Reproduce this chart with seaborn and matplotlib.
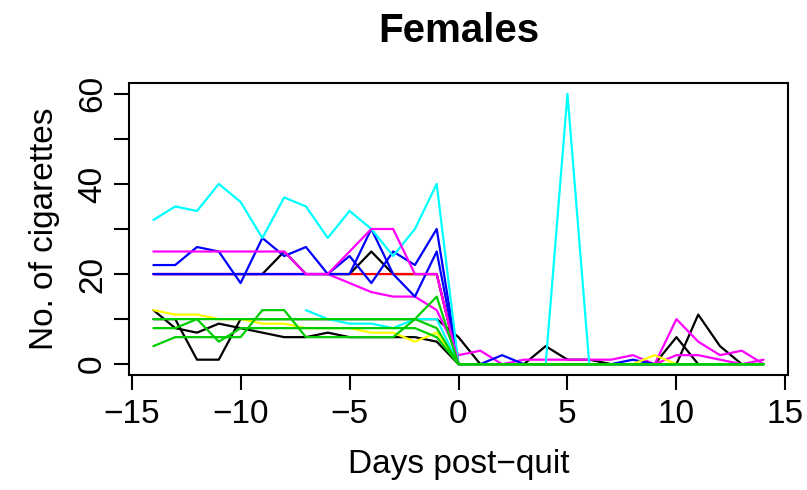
import numpy as np
import pandas as pd
import matplotlib
matplotlib.use("Agg")
import matplotlib.pyplot as plt
import seaborn as sns

nan = np.nan
days = [-14, -13, -12, -11, -10, -9, -8, -7, -6, -5, -4, -3, -2, -1,
        0, 1, 2, 3, 4, 5, 6, 7, 8, 9, 10, 11, 12, 13, 14]

black_a = [20, 20, 20, 20, 20, 20, 25, 20, 20, 20, 25, 20, 20, 20,
           0, 0, 0, 0, 0, 0, 0, 0, 0, 0, 0, 11, 4, 0, 0]
black_b = [10, 10, 1, 1, 10, 10, 10, 10, 10, 10, 10, 10, 10, 10,
           6, 0, 0, 0, 4, 1, 1, 0, 0, 0, 0, 0, 0, 0, 0]
black_c = [12, 8, 7, 9, 8, 7, 6, 6, 7, 6, 6, 6, 6, 5,
           0, 0, 0, 0, 0, 0, 0, 0, 0, 0, 6, 0, 0, 0, 0]
red_a = [20, 20, 20, 20, 20, 20, 20, 20, 20, 20, 20, 20, 20, 20,
         0, 0, 0, 0, 0, 0, 0, 0, 0, 0, 0, 0, 0, 0, 0]
magenta_b = [20, 20, 20, 20, 20, 20, 20, 20, 20, 18, 16, 15, 15, 12,
             2, 3, 0, 1, 1, 1, 1, 1, 2, 0, 10, 5, 2, 3, 0]
blue_a = [22, 22, 26, 25, 18, 28, 24, 26, 20, 24, 18, 25, 22, 30,
          0, 0, 2, 0, 0, 0, 0, 0, 1, 0, 0, 0, 0, 0, 0]
blue_b = [20, 20, 20, 20, 20, 20, 20, 20, 20, 20, 30, 20, 15, 25,
          0, 0, 0, 0, 0, 0, 0, 0, 0, 0, 0, 0, 0, 0, 0]
cyan_a = [32, 35, 34, 40, 36, 28, 37, 35, 28, 34, 30, 24, 30, 40,
          0, 0, 0, 0, 0, 60, 0, 0, 0, 0, 0, 0, 0, 0, 0]
cyan_b = [nan, nan, nan, nan, nan, nan, nan, 12, 10, 9, 9, 8, 10, 10,
          0, 0, 0, 0, 0, 0, 0, 0, 0, 0, 0, 0, 0, 0, 0]
magenta_a = [25, 25, 25, 25, 25, 25, 25, 20, 20, 25, 30, 30, 20, 20,
             0, 0, 0, 0, 0, 0, 0, 0, 0, 0, 2, 2, 1, 0, 1]
yellow_a = [12, 11, 11, 10, 10, 9, 9, 8, 8, 8, 7, 7, 5, 7,
            0, 0, 0, 0, 0, 0, 0, 0, 0, 2, 0, 0, 0, 0, 0]
green_a = [10, 10, 10, 10, 10, 10, 10, 10, 10, 10, 10, 10, 10, 8,
           0, 0, 0, 0, 0, 0, 0, 0, 0, 0, 0, 0, 0, 0, 0]
green_b = [8, 8, 10, 5, 8, 8, 8, 8, 8, 8, 8, 8, 8, 6,
           0, 0, 0, 0, 0, 0, 0, 0, 0, 0, 0, 0, 0, 0, 0]
green_c = [4, 6, 6, 6, 6, 12, 12, 6, 6, 6, 6, 6, 10, 15,
           0, 0, 0, 0, 0, 0, 0, 0, 0, 0, 0, 0, 0, 0, 0]

series = [
    ("black_a", black_a, "#000000"),
    ("black_b", black_b, "#000000"),
    ("black_c", black_c, "#000000"),
    ("red_a", red_a, "#FF0000"),
    ("magenta_b", magenta_b, "#FF00FF"),
    ("blue_a", blue_a, "#0000FF"),
    ("blue_b", blue_b, "#0000FF"),
    ("cyan_a", cyan_a, "#00FFFF"),
    ("cyan_b", cyan_b, "#00FFFF"),
    ("magenta_a", magenta_a, "#FF00FF"),
    ("yellow_a", yellow_a, "#FFFF00"),
    ("green_a", green_a, "#00CD00"),
    ("green_b", green_b, "#00CD00"),
    ("green_c", green_c, "#00CD00"),
]

rows = []
for name, vals, _ in series:
    for d, v in zip(days, vals):
        rows.append({"day": d, "cigs": v, "subject": name})
df = pd.DataFrame(rows).dropna()
palette = {name: col for name, _, col in series}
order = [name for name, _, _ in series]

sns.set_style("white")
plt.rcParams["font.family"] = ["Liberation Sans", "DejaVu Sans"]
plt.rcParams["text.color"] = "black"
plt.rcParams["axes.labelcolor"] = "black"
plt.rcParams["xtick.color"] = "black"
plt.rcParams["ytick.color"] = "black"

fig = plt.figure(figsize=(8.07, 4.90), dpi=100)
ax = fig.add_axes([129 / 807, 1 - 375 / 490, (788 - 129) / 807, (375 - 83) / 490])

sns.lineplot(data=df, x="day", y="cigs", hue="subject", hue_order=order,
             palette=palette, estimator=None, sort=False, legend=False,
             linewidth=1.6, ax=ax)

ax.set_xlim(-15.12, 15.12)
ax.set_ylim(-2.4, 62.4)
ax.set_xticks([-15, -10, -5, 0, 5, 10, 15])
ax.set_yticks([0, 10, 20, 30, 40, 50, 60])
ax.set_yticklabels(["0", "", "20", "", "40", "", "60"])
ax.tick_params(axis="both", direction="out", length=11, width=1.5,
               labelsize=24, colors="black", labelcolor="black",
               left=True, bottom=True)
ax.tick_params(axis="x", pad=6)
ax.tick_params(axis="y", pad=4)
for lab in ax.get_yticklabels():
    lab.set_rotation(90)
    lab.set_va("center")
for sp in ax.spines.values():
    sp.set_visible(True)
    sp.set_color("black")
    sp.set_linewidth(1.5)

ax.set_xlabel("Days post\u2212quit", fontsize=24, labelpad=14, color="black")
ax.set_ylabel("No. of cigarettes", fontsize=24, labelpad=12, color="black")
ax_center = (129 + 788) / 2 / 807
fig.text(ax_center, 1 - 31 / 490, "Females", ha="center", va="center",
         fontsize=29, fontweight="bold", color="black")

fig.savefig("out.png", dpi=100, facecolor="white")
